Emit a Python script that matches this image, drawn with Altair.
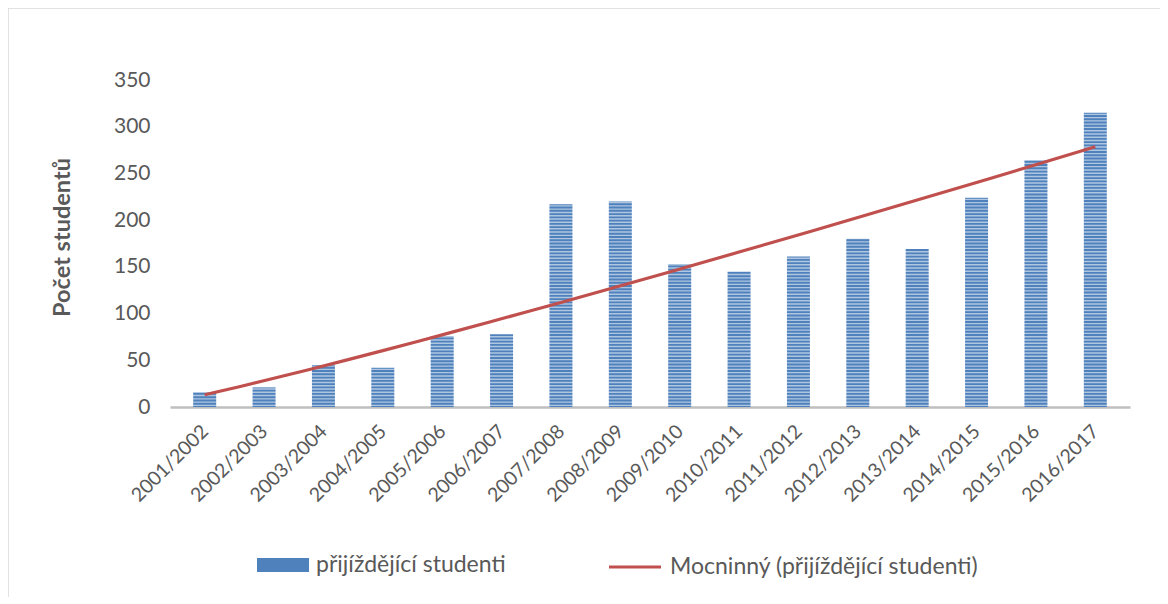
import altair as alt
import pandas as pd

seasons = ["2001/2002", "2002/2003", "2003/2004", "2004/2005", "2005/2006",
           "2006/2007", "2007/2008", "2008/2009", "2009/2010", "2010/2011",
           "2011/2012", "2012/2013", "2013/2014", "2014/2015", "2015/2016",
           "2016/2017"]
students = [16, 21, 45, 42, 76, 78, 217, 220, 153, 145, 161, 180, 169, 224, 264, 315]
y_ticks = [0, 50, 100, 150, 200, 250, 300, 350]
series_bar = "přijíždějící studenti"
series_trend = "Mocninný (přijíždějící studenti)"

df = pd.DataFrame({
    "idx": list(range(1, len(seasons) + 1)),
    "season": seasons,
    "value": students,
    "series": series_bar,
})

FONT = "Lato"
TXT = "#595959"
BLUE = "#4F81BD"
RED = "#C0504D"

label_expr = "[" + ",".join(f"'{s}'" for s in seasons) + "][datum.value - 1]"

x_scale = alt.Scale(domain=[0.5, len(seasons) + 0.5], nice=False, zero=False)
y_scale = alt.Scale(domain=[0, 350], nice=False)

x_axis = alt.Axis(values=list(range(1, len(seasons) + 1)), labelExpr=label_expr,
                  labelAngle=-45, labelAlign="right", labelBaseline="middle",
                  labelPadding=21, ticks=False, grid=False, labelOverlap=False,
                  domainColor="#BFBFBF", domainWidth=2.5, labelFontSize=19.5,
                  labelFont=FONT, labelColor=TXT, title=None)
y_axis = alt.Axis(values=y_ticks, domain=False, ticks=False, grid=False,
                  labelPadding=20, labelFontSize=21, labelFont=FONT, labelColor=TXT,
                  title="Počet studentů", titleFontSize=23.5, titleFont=FONT,
                  titleFontWeight="bold", titleColor=TXT, titleX=-108, titleY=157,
                  titleAngle=-90, titleAlign="center", titleBaseline="middle")

bar_legend = alt.Legend(title=None, orient="none", legendX=87, legendY=459,
                        labelFontSize=23, labelFont=FONT, labelColor=TXT,
                        labelOffset=7, labelLimit=500, symbolSize=2704,
                        symbolType="M-1,-0.27H1V0.27H-1Z", symbolStrokeWidth=0,
                        symbolOpacity=1)
line_legend = alt.Legend(title=None, orient="none", legendX=437, legendY=459,
                         labelFontSize=23, labelFont=FONT, labelColor=TXT,
                         labelOffset=7, labelLimit=500, symbolSize=2704,
                         symbolType="stroke", symbolStrokeWidth=3.2,
                         symbolOpacity=1)

frame = alt.Chart(alt.Data(values=[{}])).mark_rect(
    filled=False, stroke="#D9D9D9", strokeWidth=1.5
).encode(x=alt.value(-162), x2=alt.value(1000), y=alt.value(-72), y2=alt.value(530))

bars = alt.Chart(df).mark_bar(size=23).encode(
    x=alt.X("idx:Q", scale=x_scale, axis=x_axis),
    y=alt.Y("value:Q", scale=y_scale, axis=y_axis),
    color=alt.Color("series:N", scale=alt.Scale(domain=[series_bar], range=[BLUE]),
                    legend=bar_legend),
)

stripes = alt.Chart(alt.sequence(1.75, 330, 3.5, as_="s")).mark_rule(
    color="white", strokeWidth=1.4, opacity=0.55
).encode(y=alt.Y("s:Q", scale=y_scale))

trend = alt.Chart(df).transform_regression(
    "idx", "value", method="pow"
).transform_calculate(
    series=f"'{series_trend}'"
).mark_line(strokeWidth=3.2).encode(
    x=alt.X("idx:Q", scale=x_scale),
    y=alt.Y("value:Q", scale=y_scale),
    stroke=alt.Stroke("series:N", scale=alt.Scale(domain=[series_trend], range=[RED]),
                      legend=line_legend),
)

chart = alt.layer(frame, bars, stripes, trend).properties(
    width=960, height=327,
    autosize=alt.AutoSizeParams(type="none"),
    padding={"left": 162, "top": 72, "right": 30, "bottom": 190},
    background="white",
).configure_view(stroke=None)

chart.save("out.html", embed_options={"renderer": "svg", "actions": False})
